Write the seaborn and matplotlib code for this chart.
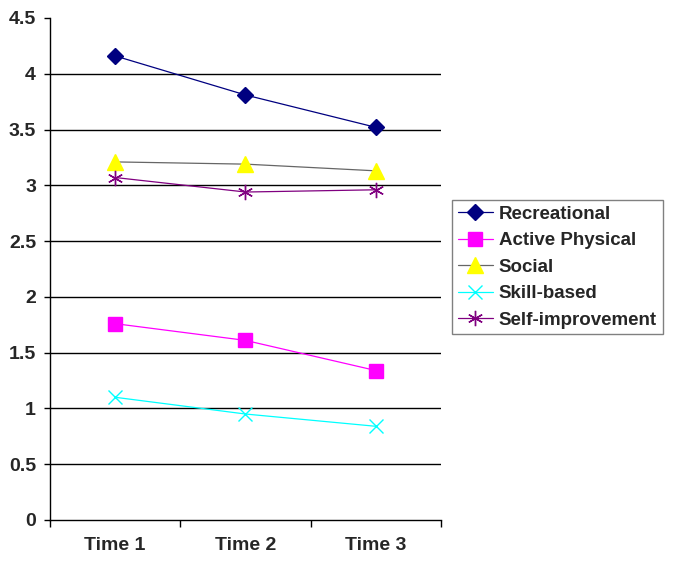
import pandas as pd
import seaborn as sns
import matplotlib.pyplot as plt
from matplotlib.ticker import FixedLocator

# Data
times = ['Time 1', 'Time 2', 'Time 3']
recreational = [4.16, 3.81, 3.52]
active_physical = [1.76, 1.61, 1.34]
social = [3.21, 3.19, 3.13]
skill_based = [1.10, 0.95, 0.84]
self_improvement = [3.07, 2.94, 2.96]

series_names = ['Recreational', 'Active Physical', 'Social', 'Skill-based', 'Self-improvement']
series_values = [recreational, active_physical, social, skill_based, self_improvement]

y_ticks = [0, 0.5, 1, 1.5, 2, 2.5, 3, 3.5, 4, 4.5]
y_tick_labels = ['0', '0.5', '1', '1.5', '2', '2.5', '3', '3.5', '4', '4.5']

# style per series: line colour, marker, marker face, marker edge, size
styles = {
    'Recreational': dict(color='#000080', marker='D', mfc='#000080', mec='#000080', ms=8, mew=1),
    'Active Physical': dict(color='#FF00FF', marker='s', mfc='#FF00FF', mec='#FF00FF', ms=9.5, mew=1),
    'Social': dict(color='#666666', marker='^', mfc='#FFFF00', mec='#FFFF00', ms=11, mew=1),
    'Skill-based': dict(color='#00FFFF', marker='x', mfc='#00FFFF', mec='#00FFFF', ms=10, mew=1),
    'Self-improvement': dict(color='#800080', marker=(6, 2, 0), mfc='#800080', mec='#800080', ms=11, mew=1),
}

sns.set_theme(style='white')
plt.rcParams['font.family'] = ['Liberation Sans', 'DejaVu Sans']
plt.rcParams['font.weight'] = 'bold'

fig = plt.figure(figsize=(6.75, 5.66), dpi=100)
ax = fig.add_axes([50 / 675, 46 / 566, 391 / 675, 502 / 566])

for name, vals in zip(series_names, series_values):
    df = pd.DataFrame({'time': times, 'value': vals})
    st = styles[name]
    sns.lineplot(data=df, x='time', y='value', ax=ax, color=st['color'], linewidth=0.9,
                 marker=st['marker'], markerfacecolor=st['mfc'], markeredgecolor=st['mec'],
                 markersize=st['ms'], markeredgewidth=st['mew'], label=name, sort=False)

ax.set_xlim(-0.5, 2.5)
ax.set_ylim(0, 4.5)
ax.set_yticks(y_ticks, y_tick_labels)
ax.xaxis.set_minor_locator(FixedLocator([-0.5, 0.5, 1.5, 2.5]))
ax.set_xlabel('')
ax.set_ylabel('')

ax.yaxis.grid(True, color='black', linewidth=1)
ax.get_ygridlines()[-1].set_visible(False)
ax.get_ygridlines()[0].set_visible(False)
ax.set_axisbelow(True)

for side in ['top', 'right']:
    ax.spines[side].set_visible(False)
for side in ['left', 'bottom']:
    ax.spines[side].set_color('black')
    ax.spines[side].set_linewidth(1)

ax.tick_params(axis='y', which='major', left=True, length=4, width=1, color='black',
               labelsize=14, pad=6)
ax.tick_params(axis='x', which='major', bottom=True, length=0, labelsize=14, pad=12)
ax.tick_params(axis='x', which='minor', bottom=True, length=5, width=1, color='black')
for lbl in ax.get_xticklabels() + ax.get_yticklabels():
    lbl.set_fontweight('bold')

leg = ax.legend(loc='upper left', bbox_to_anchor=(452 / 675, 1 - 200 / 566),
                bbox_transform=fig.transFigure, borderaxespad=0, frameon=True,
                fancybox=False, edgecolor='#606060', prop={'size': 13.5, 'weight': 'bold'},
                handlelength=1.9, handletextpad=0.3, borderpad=0.3, labelspacing=0.5)
leg.get_frame().set_linewidth(1)

fig.savefig('out.png', dpi=100)
plt.close(fig)
